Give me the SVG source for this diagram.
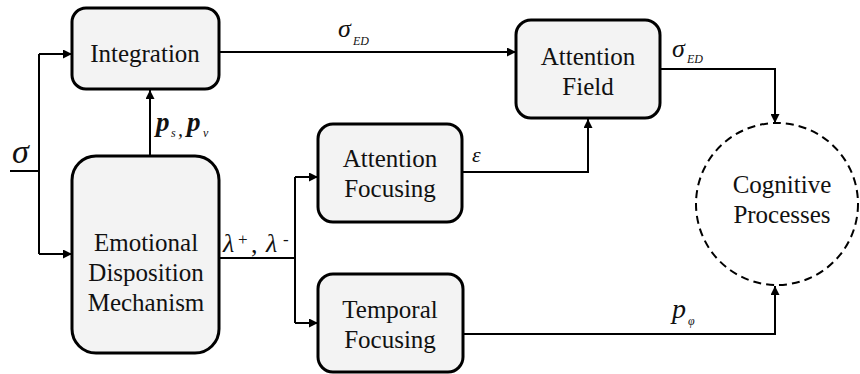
<svg xmlns="http://www.w3.org/2000/svg" width="860" height="374" viewBox="0 0 860 374">
<defs>
<marker id="ah" viewBox="0 0 10 10" refX="10" refY="5" markerWidth="5" markerHeight="4.5" markerUnits="strokeWidth" orient="auto">
<path d="M0,0 L10,5 L0,10 z" fill="#000"/>
</marker>
</defs>
<rect width="860" height="374" fill="#fff"/>
<g id="connectors" fill="none" stroke="#000" stroke-width="2">
<path d="M10,171 H39"/>
<path d="M39,54 V254"/>
<path d="M39,54 H72" marker-end="url(#ah)"/>
<path d="M39,254 H72" marker-end="url(#ah)"/>
<path d="M150,156 V90" marker-end="url(#ah)"/>
<path d="M219,52 H516" marker-end="url(#ah)"/>
<path d="M219,258 H295"/>
<path d="M295,177 V323"/>
<path d="M295,177 H318" marker-end="url(#ah)"/>
<path d="M295,323 H318" marker-end="url(#ah)"/>
<path d="M462,172 H588 V119" marker-end="url(#ah)"/>
<path d="M660,69 H775 V123" marker-end="url(#ah)"/>
<path d="M463,334 H775 V286" marker-end="url(#ah)"/>
</g>
<g id="labels" fill="#111" stroke="none">
<text font-family="Liberation Serif" font-style="italic" font-size="34" x="12" y="163">σ</text>
<text font-family="Liberation Serif" font-style="italic" x="338" y="37" font-size="26">σ<tspan x="353" y="45" font-size="12">ED</tspan></text>
<text font-family="Liberation Serif" font-style="italic" x="672" y="57" font-size="26">σ<tspan x="687" y="63" font-size="12">ED</tspan></text>
<text font-family="Liberation Serif" font-style="italic" x="472" y="162" font-size="22">ε</text>
<text font-family="Liberation Serif" font-style="italic" x="672" y="318" font-size="28">p<tspan x="688" y="325" font-size="12">φ</tspan></text>
<text font-family="Liberation Serif" font-style="italic" font-weight="bold" x="156" y="131" font-size="27">p<tspan x="171" y="137" font-size="12" font-weight="normal">s</tspan><tspan x="178" y="136" font-size="20" font-weight="normal">,</tspan><tspan x="187" y="131">p</tspan><tspan x="203" y="137" font-size="12" font-weight="normal">v</tspan></text>
<text font-family="Liberation Serif" font-style="italic" x="223" y="252" font-size="26">λ<tspan x="238" y="245" font-size="17" font-style="normal">+</tspan><tspan x="251" y="253" font-style="normal">,</tspan><tspan x="266" y="252">λ</tspan><tspan x="283" y="245" font-size="17" font-style="normal">-</tspan></text>
</g>
<g id="integration">
<rect x="72" y="8" width="147" height="81" rx="14" fill="#f3f3f3" stroke="#000" stroke-width="3"/>
<text font-family="Liberation Serif" font-size="25" fill="#111" text-anchor="middle" x="145" y="62">Integration</text>
</g>
<g id="emotional">
<rect x="72" y="156" width="147" height="197" rx="24" fill="#f3f3f3" stroke="#000" stroke-width="3"/>
<text font-family="Liberation Serif" font-size="25" fill="#111" text-anchor="middle" x="146" y="251">Emotional</text>
<text font-family="Liberation Serif" font-size="25" fill="#111" text-anchor="middle" x="146" y="281">Disposition</text>
<text font-family="Liberation Serif" font-size="25" fill="#111" text-anchor="middle" x="146" y="311">Mechanism</text>
</g>
<g id="attention-field">
<rect x="516" y="20" width="144" height="98" rx="15" fill="#f3f3f3" stroke="#000" stroke-width="3"/>
<text font-family="Liberation Serif" font-size="25" fill="#111" text-anchor="middle" x="588" y="65">Attention</text>
<text font-family="Liberation Serif" font-size="25" fill="#111" text-anchor="middle" x="588" y="95">Field</text>
</g>
<g id="attention-focusing">
<rect x="318" y="124" width="144" height="98" rx="15" fill="#f3f3f3" stroke="#000" stroke-width="3"/>
<text font-family="Liberation Serif" font-size="25" fill="#111" text-anchor="middle" x="390" y="167">Attention</text>
<text font-family="Liberation Serif" font-size="25" fill="#111" text-anchor="middle" x="390" y="197">Focusing</text>
</g>
<g id="temporal-focusing">
<rect x="318" y="274" width="145" height="98" rx="15" fill="#f3f3f3" stroke="#000" stroke-width="3"/>
<text font-family="Liberation Serif" font-size="25" fill="#111" text-anchor="middle" x="390" y="318">Temporal</text>
<text font-family="Liberation Serif" font-size="25" fill="#111" text-anchor="middle" x="390" y="348">Focusing</text>
</g>
<g id="cognitive">
<circle cx="777" cy="204" r="81" fill="none" stroke="#000" stroke-width="2" stroke-dasharray="8,5"/>
<text font-family="Liberation Serif" font-size="25" fill="#111" text-anchor="middle" x="782" y="193">Cognitive</text>
<text font-family="Liberation Serif" font-size="25" fill="#111" text-anchor="middle" x="782" y="223">Processes</text>
</g>
</svg>
